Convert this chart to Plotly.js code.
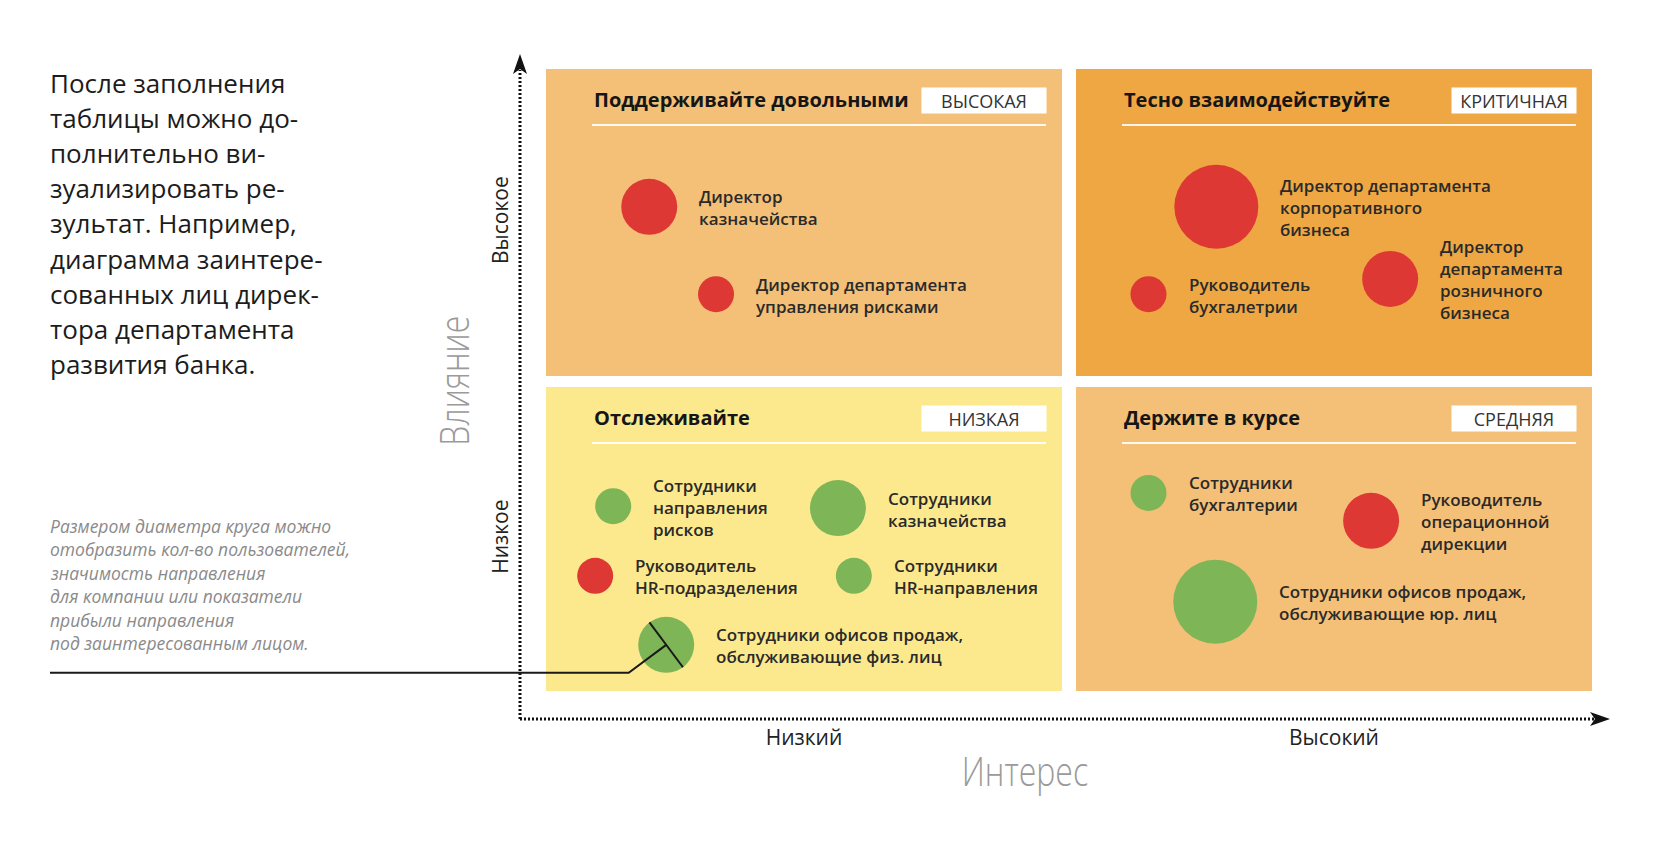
<!DOCTYPE html>
<html><head><meta charset="utf-8">
<script src="https://cdn.plot.ly/plotly-3.0.1.min.js"></script>
<style>html,body{margin:0;padding:0;background:#fff;} #chart{width:1680px;height:848px;}</style>
</head><body><div id="chart"></div>
<script>
// ---------------- data ----------------
const quadrantTitles = ['Поддерживайте довольными', 'Тесно взаимодействуйте', 'Отслеживайте', 'Держите в курсе'];
const quadrantLevels = ['ВЫСОКАЯ', 'КРИТИЧНАЯ', 'НИЗКАЯ', 'СРЕДНЯЯ'];
const xTickLabels = ['Низкий', 'Высокий'];
const yTickLabels = ['Низкое', 'Высокое'];
const xAxisTitle = 'Интерес';
const yAxisTitle = 'Влияние';

const stakeholders = [
  'Директор<br>казначейства',
  'Директор департамента<br>управления рисками',
  'Директор департамента<br>корпоративного<br>бизнеса',
  'Руководитель<br>бухгалетрии',
  'Директор<br>департамента<br>розничного<br>бизнеса',
  'Сотрудники<br>направления<br>рисков',
  'Сотрудники<br>казначейства',
  'Руководитель<br>HR-подразделения',
  'Сотрудники<br>HR-направления',
  'Сотрудники офисов продаж,<br>обслуживающие физ. лиц',
  'Сотрудники<br>бухгалтерии',
  'Руководитель<br>операционной<br>дирекции',
  'Сотрудники офисов продаж,<br>обслуживающие юр. лиц'
];
const interest  = [1.04, 1.67, 6.39, 5.75, 8.03, 0.70, 2.82, 0.53, 2.97, 1.20, 5.75, 7.85, 6.38];
const influence = [7.76, 6.38, 7.76, 6.38, 6.62, 3.03, 3.00, 1.93, 1.93, 0.84, 3.24, 2.80, 1.52];
const weight    = [56, 36, 84, 36, 56, 36, 56, 36, 36, 56, 36, 56, 84];
const group     = ['руководство', 'руководство', 'руководство', 'руководство', 'руководство',
                   'сотрудники', 'сотрудники', 'руководство', 'сотрудники', 'сотрудники',
                   'сотрудники', 'руководство', 'сотрудники'];
const highlighted = 9; // пример с диаметром круга

const introLines = ['После заполнения', 'таблицы можно до-', 'полнительно ви-', 'зуализировать ре-',
  'зультат. Например,', 'диаграмма заинтере-', 'сованных лиц дирек-', 'тора департамента', 'развития банка.'];
const noteLines = ['Размером диаметра круга можно', 'отобразить кол-во пользователей,', 'значимость направления',
  'для компании или показатели', 'прибыли направления', 'под заинтересованным лицом.'];

// ---------------- layout geometry ----------------
const W = 1680, H = 848, L = 520, R = 70, T = 54, B = 129;
const PW = W - L - R, PH = H - T - B;
const xRange = [-0.1792, 10.1038];
const yRange = [-0.3318, 10.1738];
const groupColor = {'руководство': '#DD3833', 'сотрудники': '#7DB557'};
const panelColors = ['#F4C077', '#EFA743', '#FDE98D', '#F4C077'];
const cols = [[546, 1062], [1076, 1592]];
const rows = [[69, 376], [387, 691]];
const FONT = '"Open Sans", "Noto Sans", sans-serif';
const THIN = '"Open Sans", "Noto Sans", sans-serif';

const px = p => (p - L) / PW;            // pixel x -> paper
const py = p => (H - B - p) / PH;        // pixel y -> paper
const dx2p = v => L + (v - xRange[0]) / (xRange[1] - xRange[0]) * PW;
const dy2p = v => T + (yRange[1] - v) / (yRange[1] - yRange[0]) * PH;

const shapes = [];
const annotations = [];

// quadrants
for (let q = 0; q < 4; q++) {
  const c = cols[q % 2], r = rows[Math.floor(q / 2)];
  shapes.push({type: 'rect', xref: 'paper', yref: 'paper', layer: 'below',
    x0: px(c[0]), x1: px(c[1]), y0: py(r[1]), y1: py(r[0]),
    fillcolor: panelColors[q], line: {width: 0}});
  shapes.push({type: 'line', xref: 'paper', yref: 'paper', layer: 'below',
    x0: px(c[0] + 46), x1: px(c[1] - 16), y0: py(r[0] + 56), y1: py(r[0] + 56),
    line: {color: 'rgba(255,255,255,0.9)', width: 2}});
  annotations.push({xref: 'paper', yref: 'paper', x: px(c[0] + 46), y: py(r[0] + 30),
    xanchor: 'left', yanchor: 'middle', showarrow: false,
    text: '<b>' + quadrantTitles[q] + '</b>', font: {family: FONT, size: 20, color: '#161616'}});
  annotations.push({xref: 'paper', yref: 'paper', x: px(c[1] - 16 - 62), y: py(r[0] + 31.5),
    xanchor: 'center', yanchor: 'middle', showarrow: false, width: 122, height: 23,
    bgcolor: '#ffffff', borderpad: 1,
    text: quadrantLevels[q], font: {family: FONT, size: 18, color: '#333333'}});
}

// axes (dotted with arrowheads)
shapes.push({type: 'line', xref: 'paper', yref: 'paper', x0: px(520), x1: px(520), y0: py(719), y1: py(70),
  line: {color: '#111', width: 3, dash: '2px,2px'}});
shapes.push({type: 'line', xref: 'paper', yref: 'paper', x0: px(520), x1: px(1594), y0: py(719), y1: py(719),
  line: {color: '#111', width: 3, dash: '2px,2px'}});
shapes.push({type: 'path', xref: 'paper', yref: 'paper', xsizemode: 'pixel', ysizemode: 'pixel',
  xanchor: px(520), yanchor: py(54), path: 'M0,0 L-7,-20 L0,-15 L7,-20 Z',
  fillcolor: '#111', line: {width: 0}});
shapes.push({type: 'path', xref: 'paper', yref: 'paper', xsizemode: 'pixel', ysizemode: 'pixel',
  xanchor: px(1610), yanchor: py(719), path: 'M0,0 L-20,7 L-15,0 L-20,-7 Z',
  fillcolor: '#111', line: {width: 0}});

// bubble labels
for (let i = 0; i < stakeholders.length; i++) {
  annotations.push({xref: 'x', yref: 'y', x: interest[i], y: influence[i],
    xshift: weight[i] / 2 + 20, yshift: -1, xanchor: 'left', yanchor: 'middle', align: 'left',
    showarrow: false, text: stakeholders[i],
    font: {family: FONT, size: 17, color: '#2a2a2a', weight: 600}});
}

// diameter example + leader line
{
  const cx = dx2p(interest[highlighted]), cy = dy2p(influence[highlighted]);
  const r = weight[highlighted] / 2;
  const ux = 0.598, uy = 0.801;
  shapes.push({type: 'line', xref: 'paper', yref: 'paper', layer: 'above',
    x0: px(cx - r * ux), y0: py(cy - r * uy), x1: px(cx + r * ux), y1: py(cy + r * uy),
    line: {color: '#1a1a1a', width: 2}});
  const kx = cx - 37.5, ky = cy + 28;
  shapes.push({type: 'path', xref: 'paper', yref: 'paper', layer: 'above',
    path: `M${px(50)},${py(ky)} L${px(kx)},${py(ky)} L${px(cx)},${py(cy)}`,
    line: {color: '#1a1a1a', width: 2}});
}

// left texts
introLines.forEach((t, i) => annotations.push({xref: 'paper', yref: 'paper', x: px(48), y: py(83 + i * 35.1),
  xanchor: 'left', yanchor: 'middle', showarrow: false, text: t,
  font: {family: FONT, size: 26, color: '#1c1c1c'}}));
noteLines.forEach((t, i) => annotations.push({xref: 'paper', yref: 'paper', x: px(48), y: py(526 + i * 23.4),
  xanchor: 'left', yanchor: 'middle', showarrow: false, text: '<i>' + t + '</i>',
  font: {family: FONT, size: 17.5, color: '#8a8a8a'}}));

// axis titles
const titleStart = annotations.length;
annotations.push({xref: 'paper', yref: 'paper', x: px(1025), y: py(770), xanchor: 'center', yanchor: 'middle',
  showarrow: false, text: xAxisTitle, font: {family: THIN, size: 40, color: '#9a9a9a', weight: 300}});
annotations.push({xref: 'paper', yref: 'paper', x: px(453), y: py(381), xanchor: 'center', yanchor: 'middle',
  showarrow: false, textangle: -90, text: yAxisTitle, font: {family: THIN, size: 40, color: '#9a9a9a', weight: 300}});

const trace = {
  type: 'scatter', mode: 'markers', x: interest, y: influence, hoverinfo: 'skip', cliponaxis: false,
  marker: {size: weight, sizemode: 'diameter', sizeref: 1, color: group.map(g => groupColor[g]), line: {width: 0}, opacity: 1}
};

const layout = {
  width: W, height: H, margin: {l: L, r: R, t: T, b: B, pad: 0},
  paper_bgcolor: '#ffffff', plot_bgcolor: 'rgba(0,0,0,0)', showlegend: false,
  xaxis: {range: xRange, showgrid: false, zeroline: false, showline: false, ticks: '',
    tickvals: [2.5, 7.5], ticktext: xTickLabels, ticklabelstandoff: 4,
    tickfont: {family: FONT, size: 21, color: '#222'}, fixedrange: true},
  yaxis: {range: yRange, showgrid: false, zeroline: false, showline: false, ticks: '',
    tickvals: [2.5, 7.5], ticktext: yTickLabels, tickangle: -90, ticklabelstandoff: 7,
    tickfont: {family: FONT, size: 21, color: '#222'}, fixedrange: true},
  shapes: shapes, annotations: annotations
};

Plotly.newPlot('chart', [trace], layout, {displayModeBar: false, staticPlot: true}).then(gd => {
  // condense the axis titles along their reading direction (narrow light face)
  const groups = gd.querySelectorAll('.annotation');
  [titleStart, titleStart + 1].forEach(idx => {
    const g = groups[idx];
    if (!g) return;
    const txt = g.querySelector('text.annotation-text');
    if (!txt) return;
    const bb = txt.getBBox();
    const cx = bb.x + bb.width / 2;
    txt.setAttribute('transform', `translate(${cx},0) scale(0.8,1) translate(${-cx},0)`);
  });
});
</script>
</body></html>
